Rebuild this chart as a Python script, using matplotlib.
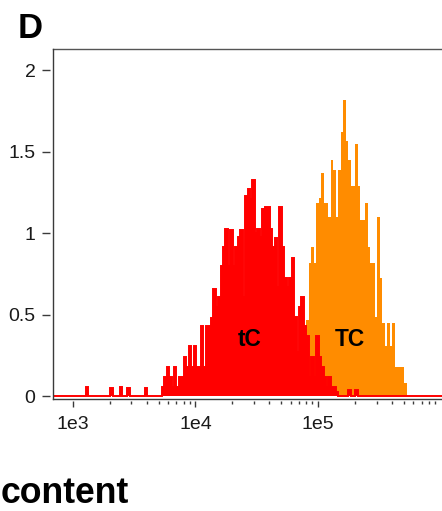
import numpy as np
import matplotlib
matplotlib.use("Agg")
import matplotlib.pyplot as plt
from matplotlib.ticker import NullLocator, NullFormatter

plt.rcParams['font.family'] = ['Liberation Sans', 'DejaVu Sans']

# ---------------- data ----------------
# histogram grid (log10 of channel value)
LOG_MIN, LOG_MAX, LOG_STEP = 2.825, 6.025, 0.02

# tC (red) main body, consecutive bins starting at red_main_start
red_main_start = 10 ** 3.725
red_main = [0.06, 0.12, 0.18, 0.12, 0.06, 0.18, 0.06, 0.12, 0.12, 0.24,
            0.18, 0.31, 0.18, 0.31, 0.18, 0.18, 0.43, 0.18, 0.43, 0.43,
            0.48, 0.66, 0.55, 0.61, 0.80, 0.92, 1.03, 0.80, 1.02, 0.80,
            0.92, 0.98, 1.02, 0.61, 1.23, 1.27, 1.21, 1.33, 1.00, 1.03,
            0.98, 1.15, 1.16, 1.16, 1.03, 0.92, 0.97, 0.67, 1.16, 0.92,
            0.73, 0.67, 0.73, 0.85, 0.49, 0.27, 0.55, 0.61, 0.43, 0.37,
            0.12, 0.24, 0.12, 0.37, 0.24, 0.18, 0.12, 0.06, 0.12, 0.06,
            0.06, 0.03]
# isolated tC events outside the main body
red_tail_x = [1300, 2080, 2500, 2870, 3880, 1.76e5, 2.04e5]
red_tail_h = [0.056, 0.05, 0.056, 0.05, 0.05, 0.04, 0.04]

# TC (orange), consecutive bins starting at orange_start
orange_start = 10 ** 4.805
orange_vals = [0.27, 0.27, 0.30, 0.35, 0.40, 0.47, 0.82, 0.92, 0.82, 1.19,
               1.22, 1.37, 1.19, 1.19, 1.10, 1.45, 1.39, 1.10, 1.39, 1.62,
               1.82, 1.57, 1.45, 1.29, 1.29, 1.55, 1.29, 1.08, 1.08, 1.19,
               0.92, 0.82, 0.82, 0.49, 1.10, 0.73, 0.45, 0.31, 0.45, 0.31,
               0.45, 0.18, 0.18, 0.18, 0.18, 0.08]

y_ticks = [0, 0.5, 1, 1.5, 2]
y_tick_labels = ["0", "0.5", "1", "1.5", "2"]
x_ticks = [1e3, 1e4, 1e5]
x_tick_labels = ["1e3", "1e4", "1e5"]
x_minor_ticks = [m * 10 ** e for e in (3, 4, 5) for m in range(2, 10)]

labels = ["tC", "TC"]
label_x = [2.76e4, 1.82e5]
label_y = [0.312, 0.312]

panel_letter = "D"
axis_title_fragment = "content"

# ---------------- build histograms ----------------
n_bins = int(round((LOG_MAX - LOG_MIN) / LOG_STEP))
edges = 10 ** (LOG_MIN + LOG_STEP * np.arange(n_bins + 1))


def bin_index(v):
    return int(np.floor((np.log10(v) - LOG_MIN) / LOG_STEP + 1e-6))


red = np.zeros(n_bins)
i0 = bin_index(red_main_start)
red[i0:i0 + len(red_main)] = red_main
for xv, hv in zip(red_tail_x, red_tail_h):
    red[bin_index(xv)] = max(red[bin_index(xv)], hv)

orange = np.zeros(n_bins)
j0 = bin_index(orange_start)
orange[j0:j0 + len(orange_vals)] = orange_vals

# ---------------- figure ----------------
W, H = 442, 511
fig = plt.figure(figsize=(W / 100, H / 100), dpi=100)
left_px, right_px, top_px, bottom_px = 52.5, 442, 49.3, 398.7
ax = fig.add_axes([left_px / W, 1 - bottom_px / H,
                   (right_px - left_px) / W, (bottom_px - top_px) / H])
ax.set_xscale('log')

ax.stairs(orange, edges, fill=True, color='#FF8C00', lw=0, zorder=2)
ax.stairs(red, edges, fill=True, color='#FF0000', lw=0, zorder=3)
ax.stairs(red, edges, fill=False, color='#FF0000', lw=1.4, zorder=4)

ax.set_xlim(10 ** 2.834, 10 ** 6.0114)
ax.set_ylim(-0.0135, 2.130)

# spines: ticks offset from the axis lines
spine_col = '#3a3a3a'
ax.spines['right'].set_visible(False)
ax.spines['top'].set_color('#555555')
ax.spines['top'].set_linewidth(1.0)
ax.spines['left'].set_position(('outward', 2.0))
ax.spines['bottom'].set_position(('outward', 1.5))
ax.spines['left'].set_color('none')
ax.spines['bottom'].set_color('none')
ax.plot([0, 0], [0, 1], transform=ax.transAxes, color=spine_col, lw=1.0,
        clip_on=False, zorder=5)
ax.plot([0, 1], [0, 0], transform=ax.transAxes, color=spine_col, lw=1.0,
        clip_on=False, zorder=5)

ax.set_yticks(y_ticks, y_tick_labels)
ax.yaxis.set_minor_locator(NullLocator())
ax.set_xticks(x_ticks, x_tick_labels)
ax.set_xticks(x_minor_ticks, minor=True)
ax.xaxis.set_minor_formatter(NullFormatter())

ax.tick_params(axis='y', which='major', direction='out', length=5.5,
               width=1.0, color=spine_col, labelsize=14, pad=4.8,
               labelcolor='#1a1a1a')
ax.tick_params(axis='x', which='major', direction='out', length=4.3,
               width=1.0, color=spine_col, labelsize=14, pad=7,
               labelcolor='#1a1a1a')
ax.tick_params(axis='x', which='minor', direction='out', length=2.5,
               width=1.0, color=spine_col)

for t, xv, yv in zip(labels, label_x, label_y):
    ax.text(xv, yv, t, ha='center', va='baseline', fontsize=16.4,
            fontweight='bold', color='black', zorder=6)

fig.text(17.5 / W, 1 - 38 / H, panel_letter, ha='left', va='baseline',
         fontsize=25, fontweight='bold', color='black')
fig.text(0.5 / W, 0.5 / H, axis_title_fragment, ha='left',
         va='bottom', fontsize=25.7, fontweight='bold', color='black')

fig.savefig('out.png', dpi=100)
